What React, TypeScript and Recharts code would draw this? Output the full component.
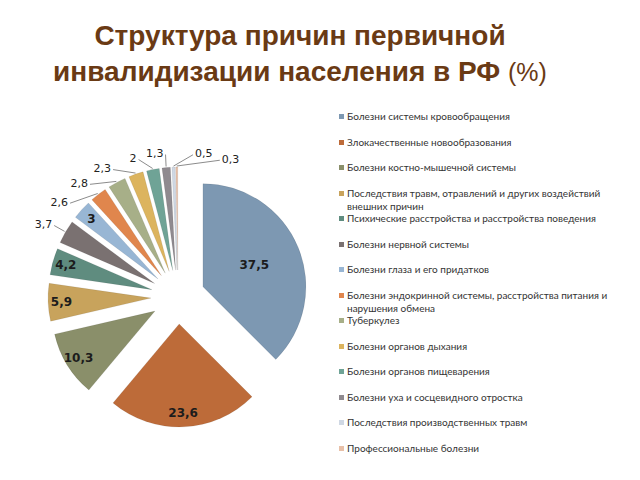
import { PieChart, Pie, Sector, Legend } from "recharts";

// причины первичной инвалидности (порядок как в легенде)
const causes = [
  "Болезни системы кровообращения",
  "Злокачественные новообразования",
  "Болезни костно-мышечной системы",
  "Последствия травм, отравлений и других воздействий внешних причин",
  "Психические расстройства и расстройства поведения",
  "Болезни нервной системы",
  "Болезни глаза и его придатков",
  "Болезни эндокринной системы, расстройства питания и нарушения обмена",
  "Туберкулез",
  "Болезни органов дыхания",
  "Болезни органов пищеварения",
  "Болезни уха и сосцевидного отростка",
  "Последствия производственных травм",
  "Профессиональные болезни",
];

const shares = [37.5, 23.6, 10.3, 5.9, 4.2, 3.7, 3, 2.6, 2.8, 2.3, 2, 1.3, 0.5, 0.3];

const colors = [
  "#7d98b2", "#bd6b39", "#8a8f6a", "#c8a35c", "#5f8c7f", "#7a7171", "#98b6d4",
  "#e0864d", "#a7af88", "#dcb45e", "#6fa396", "#8f8a8f", "#cfd8e4", "#e8c0a8",
];

const data = causes.map((name, i) => ({ name, value: shares[i] }));

const RAD = Math.PI / 180;
const EXPLODE = 27;
// подписи, вынесенные за пределы круга
const OUTSIDE = [5, 7, 8, 9, 10, 11, 12, 13];

const fmt = (v: number) => String(v).replace(".", ",");

const polar = (cx: number, cy: number, r: number, a: number) => ({
  x: cx + Math.cos(-a * RAD) * r,
  y: cy + Math.sin(-a * RAD) * r,
});

const renderSlice = (props: any) => {
  const { cx, cy, innerRadius, outerRadius, startAngle, endAngle, midAngle, index, value } = props;
  const shift = polar(0, 0, EXPLODE, midAngle);
  const k = OUTSIDE.indexOf(index);

  let label = null;
  if (k < 0) {
    const r = value > 30 ? EXPLODE + outerRadius * 0.54 : EXPLODE + outerRadius * 0.87;
    const p = polar(cx, cy, r, midAngle);
    label = (
      <text x={p.x} y={p.y} textAnchor="middle" dominantBaseline="central"
        fontFamily="'DejaVu Sans', sans-serif" fontWeight="bold" fontSize={12} fill="#1c1c1c">
        {fmt(value)}
      </text>
    );
  } else {
    const a = 150 - k * 11;
    const p = polar(cx, cy, 143, a);
    const edge = polar(cx, cy, EXPLODE + outerRadius + 1, midAngle);
    const end = a > 92;
    label = (
      <g>
        {Math.abs(a - midAngle) > 3 && (
          <polyline points={`${edge.x},${edge.y} ${p.x},${p.y}`} fill="none" stroke="#8c8c8c" strokeWidth={1} />
        )}
        <text x={p.x + (end ? -2 : 2)} y={p.y - 1} textAnchor={end ? "end" : "start"} dominantBaseline="central"
          fontFamily="'DejaVu Sans', sans-serif" fontSize={11} fill="#222">
          {fmt(value)}
        </text>
      </g>
    );
  }

  return (
    <g>
      <Sector
        cx={cx + shift.x}
        cy={cy + shift.y}
        innerRadius={innerRadius}
        outerRadius={outerRadius}
        startAngle={startAngle}
        endAngle={endAngle}
        fill={colors[index]}
        stroke="rgba(0,0,0,0.15)"
        strokeWidth={0.5}
      />
      {label}
    </g>
  );
};

const LegendList = () => (
  <div style={{ fontFamily: "Lato, 'Open Sans', sans-serif", fontSize: 10, color: "#333", width: 285 }}>
    {causes.map((c, i) => (
      <div key={c} style={{ height: 25.5, display: "flex", alignItems: "flex-start", lineHeight: "13px" }}>
        <span style={{ width: 5, height: 5, background: colors[i], marginTop: 4, marginRight: 3, flex: "none" }} />
        <span style={{ width: 270 }}>{c}</span>
      </div>
    ))}
  </div>
);

const App = () => (
  <div style={{ position: "absolute", left: 0, top: 0, width: 640, height: 480, background: "#fff" }}>
    <div
      style={{
        position: "absolute", left: 0, top: 18, width: 600, textAlign: "center",
        fontFamily: "'Liberation Sans', Arial, sans-serif", fontWeight: "bold", fontSize: 28,
        lineHeight: "36px", color: "#6a3a14",
      }}
    >
      Структура причин первичной
      <br />
      инвалидизации населения в РФ <span style={{ fontWeight: "normal", fontSize: 25 }}>(%)</span>
    </div>
    <div style={{ position: "absolute", left: 0, top: 0 }}>
      <PieChart width={640} height={480} margin={{ top: 0, right: 0, bottom: 0, left: 0 }}>
        <Pie
          data={data}
          dataKey="value"
          nameKey="name"
          cx={178}
          cy={297}
          outerRadius={103}
          startAngle={90}
          endAngle={-270}
          fill="transparent"
          stroke="none"
          label={renderSlice}
          labelLine={false}
          isAnimationActive={false}
        />
        <Legend
          layout="vertical"
          align="right"
          verticalAlign="top"
          content={() => <LegendList />}
          wrapperStyle={{ left: 339, top: 110, width: 290 }}
        />
      </PieChart>
    </div>
  </div>
);

export default App;
